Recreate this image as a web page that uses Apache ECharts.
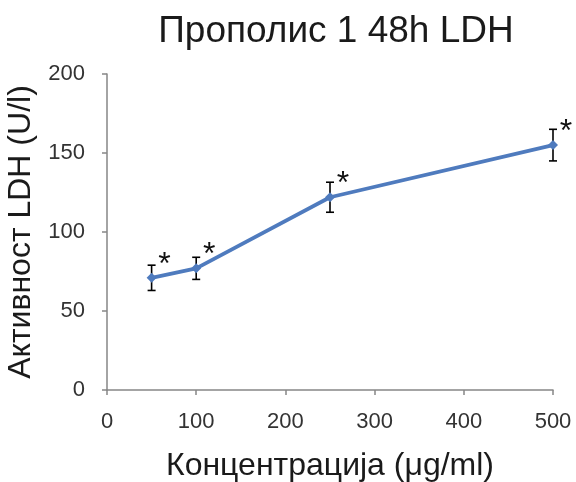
<!DOCTYPE html>
<html><head><meta charset="utf-8">
<script src="https://cdn.jsdelivr.net/npm/echarts@6/dist/echarts.min.js"></script>
<style>html,body{margin:0;padding:0;background:#fff}#c{width:576px;height:482px}</style>
</head><body><div id="c"></div>
<script>
const concentrations = [50, 100, 250, 500];
const ldhMean = [71, 77, 122, 155];
const ldhErr = [8, 7, 9.5, 10];
const significance = ['*', '*', '*', '*'];
const xTicks = [0, 100, 200, 300, 400, 500];
const yTicks = [0, 50, 100, 150, 200];

const font = '"Liberation Sans", Arial, sans-serif';
const lineData = concentrations.map((x, i) => [x, ldhMean[i]]);
const errData = concentrations.map((x, i) => [x, ldhMean[i] - ldhErr[i], ldhMean[i] + ldhErr[i]]);

const chart = echarts.init(document.getElementById('c'));
chart.setOption({
  animation: false,
  backgroundColor: '#fff',
  title: {
    text: 'Прополис 1 48h LDH',
    left: 331, top: 8, textAlign: 'center',
    textStyle: {fontFamily: font, fontSize: 37, fontWeight: 'normal', color: '#1a1a1a'}
  },
  grid: {left: 107, right: 23, top: 74, bottom: 92, containLabel: false, outerBoundsMode: 'none'},
  xAxis: {
    type: 'value', min: xTicks[0], max: xTicks[xTicks.length - 1], interval: 100,
    name: 'Концентрација (μg/ml)', nameLocation: 'middle', nameGap: 60,
    nameTextStyle: {fontFamily: font, fontSize: 32, color: '#1a1a1a'},
    axisLine: {show: true, lineStyle: {color: '#868686', width: 1.5}},
    axisTick: {show: true, inside: false, length: 5, lineStyle: {color: '#868686', width: 1.5}},
    axisLabel: {fontFamily: font, fontSize: 22, color: '#333', margin: 21},
    splitLine: {show: false}
  },
  yAxis: {
    type: 'value', min: yTicks[0], max: yTicks[yTicks.length - 1], interval: 50,
    name: 'Активност LDH (U/l)', nameLocation: 'middle', nameGap: 60,
    nameTextStyle: {fontFamily: font, fontSize: 32, color: '#1a1a1a'},
    axisLine: {show: true, lineStyle: {color: '#868686', width: 1.5}},
    axisTick: {show: true, inside: false, length: 5, lineStyle: {color: '#868686', width: 1.5}},
    axisLabel: {fontFamily: font, fontSize: 22, color: '#333', margin: 22},
    splitLine: {show: false}
  },
  series: [
    {
      type: 'custom',
      data: errData,
      z: 3,
      renderItem: function (params, api) {
        const x = api.value(0);
        const lo = api.coord([x, api.value(1)]);
        const hi = api.coord([x, api.value(2)]);
        const w = 4;
        const st = {stroke: '#000', lineWidth: 1.6};
        return {type: 'group', children: [
          {type: 'line', shape: {x1: lo[0], y1: lo[1], x2: hi[0], y2: hi[1]}, style: st},
          {type: 'line', shape: {x1: lo[0] - w, y1: lo[1], x2: lo[0] + w, y2: lo[1]}, style: st},
          {type: 'line', shape: {x1: hi[0] - w, y1: hi[1], x2: hi[0] + w, y2: hi[1]}, style: st}
        ]};
      }
    },
    {
      type: 'line',
      data: lineData,
      z: 4,
      symbol: 'diamond', symbolSize: 10,
      lineStyle: {color: '#4F7BBE', width: 3.8},
      itemStyle: {color: '#4F7BBE'},
      label: {
        show: true, position: 'inside',
        formatter: p => significance[p.dataIndex],
        offset: [13, -13],
        fontFamily: font, fontSize: 32, color: '#111'
      }
    }
  ]
});
</script></body></html>
